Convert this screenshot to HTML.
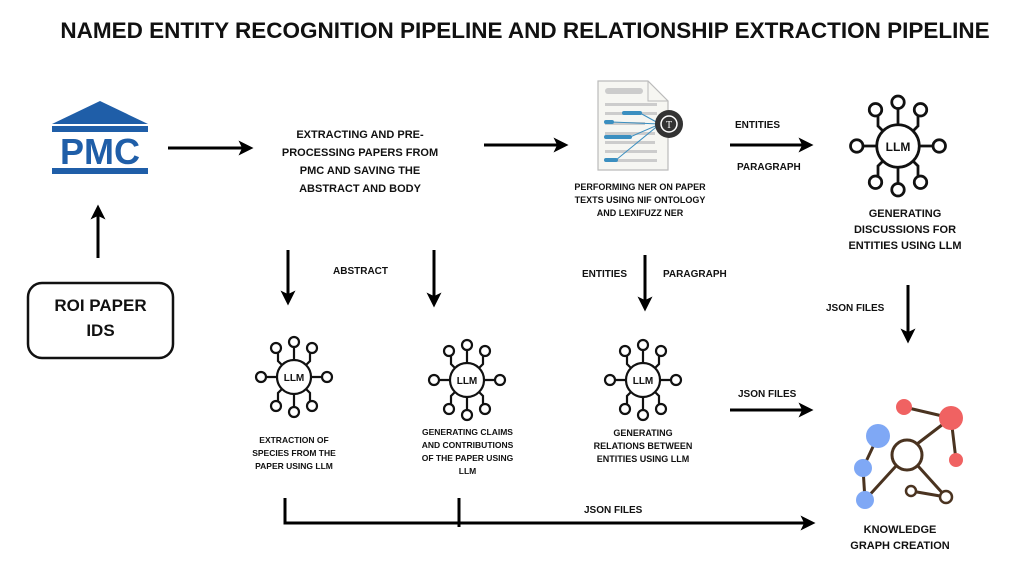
<!DOCTYPE html>
<html><head><meta charset="utf-8"><style>
body{margin:0;background:#fff;width:1015px;height:569px;overflow:hidden;font-family:"Liberation Sans",sans-serif}
.t{position:absolute;font-weight:bold;color:#111;text-align:center;white-space:nowrap}
</style></head><body>
<svg width="1015" height="569" style="position:absolute;left:0;top:0">
<defs>
<marker id="a" markerWidth="5" markerHeight="5" refX="2.5" refY="2.5" orient="auto" markerUnits="strokeWidth"><path d="M0,0 L5,2.5 L0,5 L1.2,2.5z" fill="#000"/></marker>
<g id="llm" fill="#fff" stroke="#111" stroke-width="2.2">
<path d="M0,-17 V-30 M0,17 V30 M-17,0 H-28 M17,0 H28 M-12,-12 L-16,-16 V-24 M12,-12 L16,-16 V-24 M-12,12 L-16,16 V24 M12,12 L16,16 V24" fill="none"/>
<circle r="17"/>
<circle cy="-35" r="5"/><circle cy="35" r="5"/><circle cx="-33" r="5"/><circle cx="33" r="5"/>
<circle cx="-18" cy="-29" r="5"/><circle cx="18" cy="-29" r="5"/><circle cx="-18" cy="29" r="5"/><circle cx="18" cy="29" r="5"/>
</g>
</defs>
<g stroke="#000" stroke-width="3" fill="none" marker-end="url(#a)">
<path d="M168,148 H246"/><path d="M484,145 H561"/><path d="M730,145 H806"/>
<path d="M98,258 V212"/><path d="M288,250 V298"/><path d="M434,250 V300"/><path d="M645,255 V304"/>
<path d="M908,285 V336"/><path d="M730,410 H806"/>
<path d="M285,498 V523 H808"/>
</g>
<path d="M459,498 V527" stroke="#000" stroke-width="3"/>
<!-- PMC -->
<polygon points="52,124 100,101 148,124" fill="#1f5ea8"/>
<rect x="52" y="126" width="96" height="6" fill="#1f5ea8"/>
<rect x="52" y="168" width="96" height="6" fill="#1f5ea8"/>
<text x="100" y="164" text-anchor="middle" font-family="Liberation Sans" font-weight="bold" font-size="36" fill="#1f5ea8">PMC</text>
<rect x="28" y="283" width="145" height="75" rx="14" fill="#fff" stroke="#111" stroke-width="2.5"/>
<!-- doc -->
<path d="M598,81 H648 L668,101 V170 H598z" fill="#f6f6f2" stroke="#bbb" stroke-width="1.2"/>
<path d="M648,81 V101 H668" fill="none" stroke="#bbb"/>
<rect x="605" y="88" width="38" height="6" rx="3" fill="#ccc"/>
<g fill="#ccc"><rect x="605" y="103" width="52" height="3"/><rect x="605" y="112" width="52" height="3"/><rect x="605" y="122" width="40" height="3"/><rect x="605" y="132" width="50" height="3"/><rect x="605" y="141" width="50" height="3"/><rect x="605" y="150" width="52" height="3"/><rect x="605" y="159" width="52" height="3"/></g>
<g fill="#3b8fc0"><rect x="622" y="111" width="20" height="4" rx="2"/><rect x="604" y="120" width="10" height="4" rx="2"/><rect x="604" y="135" width="28" height="4" rx="2"/><rect x="604" y="158" width="14" height="4" rx="2"/></g>
<g stroke="#3b8fc0" stroke-width="1"><path d="M640,113 L660,124 M612,122 L660,124 M630,137 L660,124 M616,160 L660,124"/></g>
<circle cx="669" cy="124" r="14" fill="#333"/><circle cx="669" cy="124" r="8" fill="none" stroke="#fff" stroke-width="1.5"/>
<text x="669" y="128" text-anchor="middle" font-size="10" fill="#fff" font-family="Liberation Serif">T</text>
<use href="#llm" x="294" y="377"/><use href="#llm" x="467" y="380"/><use href="#llm" x="643" y="380"/>
<use href="#llm" transform="translate(898,146) scale(1.25)"/>
<!-- KG -->
<g stroke="#4a3320" stroke-width="3" fill="none">
<path d="M904,407 L951,418 L956,460 M951,418 L917,444 M878,436 L863,468 L865,500 L896,466 M918,466 L946,497 L911,491"/>
</g>
<circle cx="904" cy="407" r="8" fill="#f06262"/><circle cx="951" cy="418" r="12" fill="#f06262"/><circle cx="956" cy="460" r="7" fill="#f06262"/>
<circle cx="878" cy="436" r="12" fill="#7fa8f5"/><circle cx="863" cy="468" r="9" fill="#7fa8f5"/><circle cx="865" cy="500" r="9" fill="#7fa8f5"/>
<circle cx="907" cy="455" r="15" fill="#fff" stroke="#4a3320" stroke-width="3"/>
<circle cx="911" cy="491" r="5" fill="#fff" stroke="#4a3320" stroke-width="2.5"/>
<circle cx="946" cy="497" r="6" fill="#fff" stroke="#4a3320" stroke-width="2.5"/>
<g font-family="Liberation Sans" font-weight="bold" text-anchor="middle" fill="#111">
<text x="294" y="381" font-size="10">LLM</text><text x="467" y="384" font-size="10">LLM</text><text x="643" y="384" font-size="10">LLM</text><text x="898" y="151" font-size="12">LLM</text>
</g>
</svg>
<div class="t" style="left:0;width:1050px;top:18px;font-size:22.5px">NAMED ENTITY RECOGNITION PIPELINE AND RELATIONSHIP EXTRACTION PIPELINE</div>
<div class="t" style="left:28px;width:145px;top:293px;font-size:17px;line-height:25px">ROI PAPER<br>IDS</div>
<div class="t" style="left:260px;width:200px;top:126px;font-size:11px;line-height:18px">EXTRACTING AND PRE-<br>PROCESSING PAPERS FROM<br>PMC AND SAVING THE<br>ABSTRACT AND BODY</div>
<div class="t" style="left:560px;width:160px;top:181px;font-size:9px;line-height:13px">PERFORMING NER ON PAPER<br>TEXTS USING NIF ONTOLOGY<br>AND LEXIFUZZ NER</div>
<div class="t" style="left:735px;top:120px;font-size:10px">ENTITIES</div>
<div class="t" style="left:737px;top:162px;font-size:10px">PARAGRAPH</div>
<div class="t" style="left:830px;width:150px;top:206px;font-size:11px;line-height:16px">GENERATING<br>DISCUSSIONS FOR<br>ENTITIES USING LLM</div>
<div class="t" style="left:333px;top:266px;font-size:10px">ABSTRACT</div>
<div class="t" style="left:582px;top:269px;font-size:10px">ENTITIES</div>
<div class="t" style="left:663px;top:269px;font-size:10px">PARAGRAPH</div>
<div class="t" style="left:826px;top:303px;font-size:10px">JSON FILES</div>
<div class="t" style="left:738px;top:389px;font-size:10px">JSON FILES</div>
<div class="t" style="left:584px;top:505px;font-size:10px">JSON FILES</div>
<div class="t" style="left:234px;width:120px;top:434px;font-size:8.5px;line-height:13px">EXTRACTION OF<br>SPECIES FROM THE<br>PAPER USING LLM</div>
<div class="t" style="left:405px;width:125px;top:426px;font-size:8.5px;line-height:13px">GENERATING CLAIMS<br>AND CONTRIBUTIONS<br>OF THE PAPER USING<br>LLM</div>
<div class="t" style="left:583px;width:120px;top:427px;font-size:9px;line-height:13px">GENERATING<br>RELATIONS BETWEEN<br>ENTITIES USING LLM</div>
<div class="t" style="left:840px;width:120px;top:522px;font-size:11px;line-height:16px">KNOWLEDGE<br>GRAPH CREATION</div>
</body></html>
